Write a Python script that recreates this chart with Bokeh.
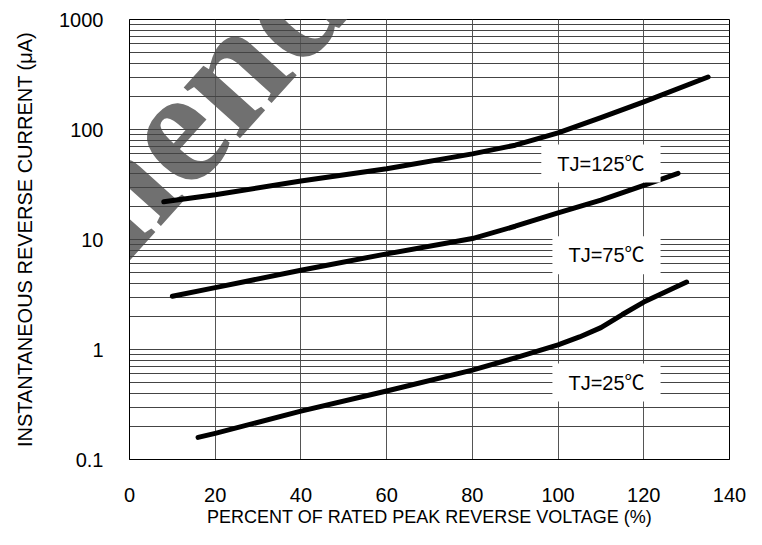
import math
from bokeh.plotting import figure
from bokeh.models import Range1d, FixedTicker, CustomJSTickFormatter, Label
from bokeh.embed import file_html
from bokeh.resources import INLINE

# ---- data ----
pct_125 = [8, 20, 40, 60, 80, 90, 100, 110, 120, 135]
cur_125 = [22, 25.5, 34, 44, 60, 72, 93, 128, 178, 300]
pct_75 = [10, 20, 40, 60, 80, 90, 100, 110, 120, 128]
cur_75 = [3.05, 3.65, 5.25, 7.4, 10.2, 13.2, 17.5, 22.8, 31, 40]
pct_25 = [16, 20, 40, 60, 80, 90, 100, 105, 110, 115, 120, 130]
cur_25 = [0.159, 0.173, 0.275, 0.42, 0.65, 0.84, 1.1, 1.3, 1.58, 2.08, 2.7, 4.1]

series_labels = ["TJ=125\u2103", "TJ=75\u2103", "TJ=25\u2103"]
label_x = [110, 111.3, 111.3]
label_y = [49, 7.2, 0.5]

x_ticks = [0, 20, 40, 60, 80, 100, 120, 140]
y_ticks = [0.1, 1, 10, 100, 1000]
y_minor = [m * d for d in [0.1, 1, 10, 100] for m in range(2, 10)]

FONT = "Liberation Sans"

p = figure(width=746, height=529, y_axis_type="log",
           x_range=Range1d(0, 140), y_range=Range1d(0.1, 1000),
           output_backend="svg", toolbar_location=None,
           min_border_left=129, min_border_right=17,
           min_border_top=19, min_border_bottom=64)
p.background_fill_color = "white"
p.border_fill_color = "white"
p.outline_line_color = "black"
p.outline_line_width = 1

p.xaxis.ticker = FixedTicker(ticks=x_ticks)
p.yaxis.ticker = FixedTicker(ticks=y_ticks, minor_ticks=y_minor)
p.yaxis.formatter = CustomJSTickFormatter(code="return tick.toString();")
for ax in (p.xaxis, p.yaxis):
    ax.axis_line_color = "black"
    ax.major_tick_line_color = None
    ax.minor_tick_line_color = None
    ax.major_label_text_font = FONT
    ax.major_label_text_font_size = "20px"
    ax.major_label_text_color = "black"
    ax.axis_label_text_font_style = "normal"
    ax.axis_label_text_color = "black"
p.xaxis.major_label_standoff = 22
p.yaxis.major_label_standoff = 20

p.xaxis.axis_label = "PERCENT OF RATED PEAK REVERSE VOLTAGE (%)"
p.xaxis.axis_label_text_font = FONT
p.xaxis.axis_label_text_font_size = "18px"
p.xaxis.axis_label_standoff = 2
p.yaxis.axis_label = "INSTANTANEOUS REVERSE CURRENT (\u03bcA)"
p.yaxis.axis_label_text_font = FONT
p.yaxis.axis_label_text_font_size = "20px"
p.yaxis.axis_label_standoff = 20

p.xgrid.ticker = FixedTicker(ticks=x_ticks)
p.xgrid.grid_line_color = "#555555"
p.ygrid.grid_line_color = "#444444"
p.ygrid.minor_grid_line_color = "#444444"

for xs, ys in ((pct_125, cur_125), (pct_75, cur_75), (pct_25, cur_25)):
    p.line(xs, ys, line_color="black", line_width=5, line_cap="round", line_join="round")

for txt, lx, ly in zip(series_labels, label_x, label_y):
    p.add_layout(Label(x=lx, y=ly, text=txt, text_align="center", text_baseline="middle",
                       text_font=FONT + ", Noto Sans CJK SC", text_font_size="20px",
                       text_color="black", background_fill_color="white",
                       padding=dict(left=16, right=16, top=8, bottom=8)))

# watermark (drawn beneath grid and curves)
p.add_layout(Label(x=-50, y=226, x_units="screen", y_units="screen",
                   text="Recommended", angle=math.radians(48),
                   text_align="center", text_baseline="middle",
                   text_font="Liberation Serif", text_font_style="bold",
                   text_font_size="165px", text_color="#707070", level="image"))

open("out.html", "w").write(file_html(p, INLINE))
